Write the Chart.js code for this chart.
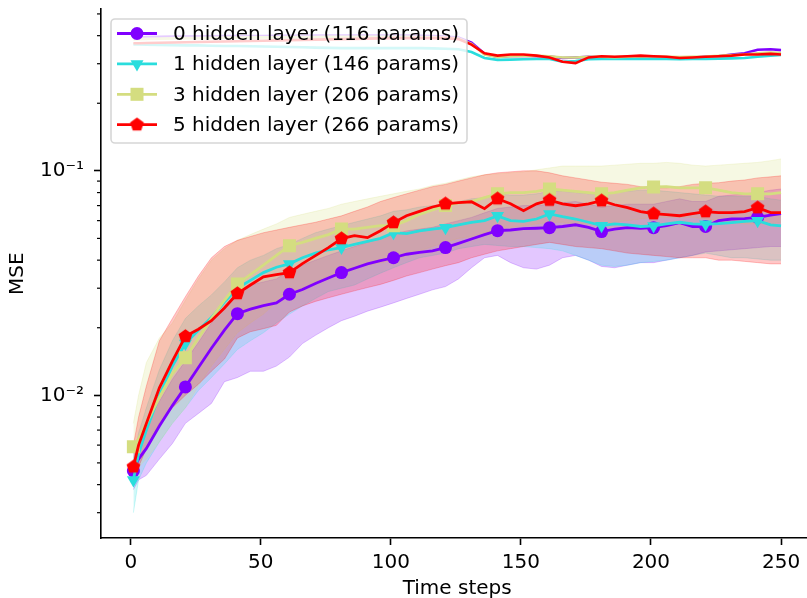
<!DOCTYPE html>
<html>
<head>
<meta charset="utf-8">
<script src="https://cdn.jsdelivr.net/npm/chart.js@4.4.0/dist/chart.umd.min.js"></script>
<style>
  html, body { margin: 0; padding: 0; background: #fff; overflow: hidden; }
  #wrap { width: 807px; height: 598px; overflow: hidden; }
  canvas { display: block; }
</style>
</head>
<body>
<div id="wrap"><canvas id="mse" width="830" height="598"></canvas></div>
<script>
// time steps sampled from the plot
const steps = [1,3,6,11,16,21,26,31,36,41,46,51,56,61,66,71,76,81,86,91,96,101,106,111,116,121,126,131,136,141,146,151,156,161,166,171,176,181,186,191,196,201,206,211,216,221,226,231,236,241,246,250];

// 0 hidden layer
const mse0 = [0.0046,0.0052,0.0058,0.0073,0.0090,0.0109,0.0133,0.0162,0.0195,0.0231,0.0242,0.0251,0.0258,0.0282,0.0296,0.0315,0.0333,0.0352,0.0368,0.0385,0.0398,0.0410,0.0425,0.0433,0.0440,0.0455,0.0475,0.0497,0.0520,0.0541,0.0545,0.0553,0.0555,0.0558,0.0565,0.0575,0.0560,0.0536,0.0550,0.0558,0.0555,0.0558,0.0570,0.0588,0.0565,0.0565,0.0600,0.0610,0.0612,0.0620,0.0635,0.0645];
const lo0 = [0.0038,0.0042,0.0044,0.0052,0.0061,0.0075,0.0083,0.0092,0.0115,0.0120,0.0128,0.0128,0.0135,0.0148,0.0170,0.0185,0.0200,0.0215,0.0225,0.0237,0.0247,0.0258,0.0270,0.0282,0.0295,0.0305,0.0330,0.0370,0.0410,0.0420,0.0390,0.0370,0.0365,0.0380,0.0410,0.0420,0.0400,0.0375,0.0370,0.0380,0.0390,0.0390,0.0400,0.0410,0.0420,0.0435,0.0440,0.0445,0.0450,0.0455,0.0460,0.0460];
const hi0 = [0.0055,0.0064,0.0074,0.0094,0.0118,0.0142,0.0172,0.0210,0.0250,0.0290,0.0310,0.0320,0.0330,0.0360,0.0380,0.0400,0.0420,0.0440,0.0460,0.0480,0.0500,0.0520,0.0540,0.0550,0.0560,0.0580,0.0600,0.0620,0.0650,0.0680,0.0690,0.0700,0.0700,0.0710,0.0720,0.0730,0.0710,0.0690,0.0700,0.0710,0.0710,0.0710,0.0730,0.0750,0.0730,0.0730,0.0770,0.0780,0.0790,0.0800,0.0820,0.0830];

// 1 hidden layer
const mse1 = [0.0042,0.0055,0.0070,0.0100,0.0135,0.0170,0.0195,0.0222,0.0260,0.0300,0.0325,0.0352,0.0372,0.0385,0.0410,0.0430,0.0445,0.0455,0.0470,0.0485,0.0500,0.0530,0.0525,0.0540,0.0550,0.0558,0.0575,0.0590,0.0600,0.0630,0.0600,0.0595,0.0610,0.0643,0.0625,0.0610,0.0590,0.0570,0.0580,0.0575,0.0565,0.0568,0.0580,0.0590,0.0580,0.0578,0.0582,0.0588,0.0595,0.0600,0.0575,0.0568];
const lo1 = [0.0030,0.0042,0.0050,0.0062,0.0075,0.0088,0.0105,0.0120,0.0138,0.0160,0.0175,0.0190,0.0210,0.0230,0.0250,0.0270,0.0290,0.0300,0.0310,0.0330,0.0350,0.0370,0.0390,0.0410,0.0420,0.0430,0.0450,0.0460,0.0470,0.0465,0.0460,0.0460,0.0455,0.0450,0.0440,0.0420,0.0400,0.0380,0.0375,0.0380,0.0390,0.0395,0.0400,0.0410,0.0420,0.0430,0.0420,0.0410,0.0410,0.0405,0.0400,0.0400];
const hi1 = [0.0052,0.0068,0.0088,0.0130,0.0175,0.0220,0.0250,0.0280,0.0320,0.0370,0.0400,0.0420,0.0450,0.0470,0.0500,0.0530,0.0550,0.0570,0.0590,0.0610,0.0630,0.0660,0.0670,0.0690,0.0700,0.0710,0.0730,0.0750,0.0760,0.0790,0.0780,0.0780,0.0790,0.0810,0.0810,0.0800,0.0790,0.0790,0.0800,0.0810,0.0820,0.0820,0.0810,0.0800,0.0790,0.0780,0.0770,0.0770,0.0770,0.0770,0.0750,0.0740];

// 3 hidden layer
const mse3 = [0.0059,0.0064,0.0075,0.0098,0.0125,0.0147,0.0180,0.0220,0.0265,0.0313,0.0345,0.0380,0.0420,0.0464,0.0480,0.0500,0.0520,0.0550,0.0550,0.0560,0.0570,0.0570,0.0600,0.0640,0.0670,0.0700,0.0720,0.0730,0.0760,0.0790,0.0800,0.0800,0.0810,0.0830,0.0820,0.0810,0.0800,0.0790,0.0800,0.0820,0.0840,0.0848,0.0850,0.0840,0.0840,0.0840,0.0820,0.0800,0.0790,0.0790,0.0790,0.0800];
const lo3 = [0.0045,0.0048,0.0052,0.0062,0.0075,0.0088,0.0110,0.0135,0.0160,0.0190,0.0210,0.0230,0.0260,0.0290,0.0300,0.0320,0.0340,0.0360,0.0370,0.0380,0.0390,0.0400,0.0420,0.0440,0.0460,0.0480,0.0500,0.0510,0.0530,0.0550,0.0560,0.0570,0.0580,0.0590,0.0590,0.0580,0.0580,0.0580,0.0590,0.0600,0.0610,0.0620,0.0620,0.0620,0.0620,0.0610,0.0600,0.0590,0.0580,0.0580,0.0580,0.0590];
const hi3 = [0.0075,0.0100,0.0140,0.0180,0.0210,0.0265,0.0330,0.0400,0.0450,0.0490,0.0520,0.0550,0.0580,0.0620,0.0640,0.0660,0.0680,0.0710,0.0730,0.0750,0.0770,0.0790,0.0810,0.0830,0.0860,0.0880,0.0910,0.0940,0.0960,0.0970,0.0980,0.0990,0.1010,0.1030,0.1050,0.1050,0.1050,0.1050,0.1060,0.1070,0.1080,0.1080,0.1090,0.1080,0.1060,0.1050,0.1060,0.1070,0.1080,0.1090,0.1110,0.1130];

// 5 hidden layer
const mse5 = [0.0048,0.0060,0.0075,0.0108,0.0142,0.0183,0.0197,0.0215,0.0245,0.0284,0.0310,0.0337,0.0345,0.0352,0.0386,0.0419,0.0455,0.0499,0.0514,0.0504,0.0541,0.0588,0.0631,0.0660,0.0690,0.0713,0.0721,0.0728,0.0678,0.0751,0.0713,0.0664,0.0713,0.0740,0.0713,0.0699,0.0713,0.0736,0.0706,0.0685,0.0658,0.0644,0.0638,0.0631,0.0644,0.0658,0.0651,0.0651,0.0658,0.0685,0.0651,0.0651];
const lo5 = [0.0040,0.0048,0.0058,0.0075,0.0088,0.0100,0.0112,0.0128,0.0145,0.0180,0.0192,0.0198,0.0205,0.0235,0.0250,0.0262,0.0272,0.0282,0.0292,0.0302,0.0312,0.0325,0.0340,0.0352,0.0365,0.0378,0.0390,0.0410,0.0425,0.0440,0.0450,0.0460,0.0470,0.0480,0.0470,0.0460,0.0455,0.0450,0.0440,0.0430,0.0425,0.0420,0.0415,0.0410,0.0410,0.0410,0.0400,0.0400,0.0395,0.0390,0.0385,0.0385];
const hi5 = [0.0060,0.0080,0.0110,0.0175,0.0220,0.0275,0.0340,0.0410,0.0460,0.0490,0.0510,0.0530,0.0545,0.0560,0.0575,0.0590,0.0610,0.0630,0.0660,0.0690,0.0730,0.0760,0.0790,0.0820,0.0850,0.0870,0.0900,0.0930,0.0960,0.0980,0.0990,0.1000,0.1000,0.0980,0.0950,0.0930,0.0910,0.0890,0.0880,0.0870,0.0850,0.0840,0.0840,0.0850,0.0870,0.0880,0.0885,0.0900,0.0910,0.0930,0.0940,0.0950];

// upper group of curves (same colours, no markers)
const top0 = [0.390,0.392,0.394,0.395,0.396,0.396,0.397,0.397,0.398,0.398,0.398,0.398,0.399,0.399,0.399,0.400,0.400,0.400,0.400,0.400,0.400,0.400,0.400,0.399,0.398,0.396,0.392,0.372,0.332,0.322,0.325,0.326,0.324,0.323,0.318,0.320,0.322,0.320,0.318,0.322,0.322,0.322,0.320,0.316,0.320,0.322,0.324,0.330,0.334,0.346,0.348,0.345];
const top1 = [0.366,0.366,0.365,0.364,0.363,0.362,0.362,0.361,0.360,0.360,0.359,0.358,0.357,0.356,0.355,0.354,0.353,0.352,0.352,0.352,0.352,0.352,0.352,0.352,0.351,0.350,0.348,0.338,0.318,0.312,0.313,0.314,0.315,0.315,0.306,0.308,0.314,0.315,0.315,0.315,0.316,0.315,0.315,0.314,0.315,0.315,0.316,0.317,0.318,0.322,0.326,0.328];
const top3 = [0.385,0.386,0.387,0.388,0.389,0.390,0.390,0.391,0.392,0.392,0.393,0.393,0.393,0.394,0.394,0.394,0.395,0.395,0.395,0.395,0.395,0.395,0.395,0.394,0.393,0.392,0.388,0.368,0.330,0.322,0.324,0.325,0.325,0.324,0.320,0.320,0.322,0.322,0.321,0.322,0.323,0.323,0.322,0.321,0.322,0.323,0.325,0.328,0.330,0.334,0.336,0.335];
const top5 = [0.370,0.370,0.371,0.372,0.373,0.374,0.375,0.376,0.377,0.378,0.379,0.380,0.381,0.382,0.383,0.384,0.385,0.386,0.387,0.388,0.389,0.390,0.390,0.390,0.390,0.390,0.386,0.365,0.334,0.326,0.330,0.330,0.326,0.320,0.306,0.302,0.320,0.324,0.322,0.324,0.326,0.324,0.322,0.318,0.320,0.322,0.324,0.326,0.330,0.330,0.332,0.330];

const labels = ['0 hidden layer (116 params)', '1 hidden layer (146 params)', '3 hidden layer (206 params)', '5 hidden layer (266 params)'];
const xTicks = [0, 50, 100, 150, 200, 250];
const yMajor = [0.01, 0.1];
const yMajorLabels = ['10\u207B\u00B2', '10\u207B\u00B9'];
const yMinor = [0.003,0.004,0.005,0.006,0.007,0.008,0.009,0.02,0.03,0.04,0.05,0.06,0.07,0.08,0.09,0.2,0.3,0.4,0.5];

const colors = ['#8000ff', '#2adddd', '#d4dd80', '#ff0000'];
const bandRgb = ['128,0,255', '42,221,221', '212,221,128', '255,0,0'];
const FONT = 'DejaVu Sans';

// pentagon marker (matplotlib 'p')
function pentagon(color, r) {
  const c = document.createElement('canvas');
  const s = Math.ceil(r * 2 + 2);
  c.width = s; c.height = s;
  const g = c.getContext('2d');
  g.fillStyle = color;
  g.beginPath();
  for (let i = 0; i < 5; i++) {
    const a = -Math.PI / 2 + i * 2 * Math.PI / 5;
    const px = s / 2 + r * Math.cos(a), py = s / 2 + r * Math.sin(a);
    if (i === 0) g.moveTo(px, py); else g.lineTo(px, py);
  }
  g.closePath();
  g.fill();
  return c;
}
const redPent = pentagon('#ff0000', 7.2);

const markerStyles = [
  { pointStyle: 'circle', radius: 6.5, rotation: 0 },
  { pointStyle: 'triangle', radius: 7.5, rotation: 180 },
  { pointStyle: 'rect', radius: 9.2, rotation: 0 },
  { pointStyle: redPent, radius: 7, rotation: 0 }
];

const pts = arr => steps.map((s, i) => ({ x: s, y: arr[i] }));
const isMarker = ctx => (steps[ctx.dataIndex] - 1) % 20 === 0;

const mainSeries = [mse0, mse1, mse3, mse5];
const lows = [lo0, lo1, lo3, lo5];
const highs = [hi0, hi1, hi3, hi5];
const tops = [top0, top1, top3, top5];

const datasets = [];
// bands: drawn first (higher order = further back)
for (let k = 0; k < 4; k++) {
  const lowIdx = datasets.length;
  datasets.push({
    data: pts(lows[k]), borderColor: 'rgba(' + bandRgb[k] + ',0.22)', borderWidth: 1,
    pointRadius: 0, fill: false, order: 40 - k
  });
  datasets.push({
    data: pts(highs[k]), borderColor: 'rgba(' + bandRgb[k] + ',0.22)', borderWidth: 1,
    backgroundColor: 'rgba(' + bandRgb[k] + ',0.22)',
    pointRadius: 0, fill: lowIdx, order: 40 - k
  });
}
// upper curves
for (let k = 0; k < 4; k++) {
  datasets.push({
    data: pts(tops[k]), borderColor: colors[k], borderWidth: 2.6,
    pointRadius: 0, fill: false, order: 20 - k
  });
}
// main curves with markers every 20 steps
for (let k = 0; k < 4; k++) {
  const m = markerStyles[k];
  datasets.push({
    label: labels[k],
    data: pts(mainSeries[k]), borderColor: colors[k], backgroundColor: colors[k],
    borderWidth: 2.8, fill: false, order: 4 - k,
    pointStyle: m.pointStyle, pointRotation: m.rotation,
    pointRadius: ctx => isMarker(ctx) ? m.radius : 0,
    pointBorderWidth: 0, pointBackgroundColor: colors[k]
  });
}

function drawMarker(ctx, k, x, y) {
  const m = markerStyles[k];
  ctx.fillStyle = colors[k];
  ctx.beginPath();
  if (k === 0) {
    ctx.arc(x, y, m.radius, 0, Math.PI * 2);
    ctx.fill();
  } else if (k === 1) {
    const r = m.radius;
    ctx.moveTo(x, y + r);
    ctx.lineTo(x - r * 0.866, y - r * 0.5);
    ctx.lineTo(x + r * 0.866, y - r * 0.5);
    ctx.closePath();
    ctx.fill();
  } else if (k === 2) {
    const h = m.radius * Math.SQRT1_2;
    ctx.fillRect(x - h, y - h, 2 * h, 2 * h);
  } else {
    ctx.drawImage(redPent, x - redPent.width / 2, y - redPent.height / 2);
  }
}

const extras = {
  id: 'extras',
  afterDraw(chart) {
    const ctx = chart.ctx;
    const ys = chart.scales.y;
    ctx.save();
    // minor ticks on the log axis
    ctx.strokeStyle = '#000';
    ctx.lineWidth = 1.2;
    yMinor.forEach(v => {
      const py = ys.getPixelForValue(v);
      ctx.beginPath();
      ctx.moveTo(ys.right - 4, py);
      ctx.lineTo(ys.right, py);
      ctx.stroke();
    });
    // legend box
    const lx = 111, ly = 19, lw = 356, lh = 124;
    ctx.beginPath();
    ctx.roundRect(lx, ly, lw, lh, 4);
    ctx.fillStyle = 'rgba(255,255,255,0.8)';
    ctx.fill();
    ctx.strokeStyle = 'rgba(204,204,204,0.8)';
    ctx.lineWidth = 1.6;
    ctx.stroke();
    ctx.font = '20px "' + FONT + '"';
    ctx.textBaseline = 'middle';
    ctx.textAlign = 'left';
    labels.forEach((t, k) => {
      const ry = 33.5 + k * 30.4;
      ctx.strokeStyle = colors[k];
      ctx.lineWidth = 2.8;
      ctx.beginPath();
      ctx.moveTo(117, ry);
      ctx.lineTo(157, ry);
      ctx.stroke();
      drawMarker(ctx, k, 137, ry);
      ctx.fillStyle = '#000';
      ctx.fillText(t, 173, ry + 1);
    });
    ctx.restore();
  }
};

new Chart(document.getElementById('mse'), {
  type: 'line',
  data: { datasets },
  plugins: [extras],
  options: {
    responsive: false,
    animation: false,
    devicePixelRatio: 1,
    events: [],
    layout: { padding: { left: 0, right: 16.6, top: 8, bottom: 0 } },
    plugins: { legend: { display: false }, tooltip: { enabled: false } },
    elements: { line: { tension: 0 } },
    scales: {
      x: {
        type: 'linear', min: -11.45, max: 262.45,
        afterBuildTicks: s => { s.ticks = xTicks.map(v => ({ value: v })); },
        afterFit: s => { s.height = 60; s.paddingLeft = 0; s.paddingRight = 0; },
        grid: { drawOnChartArea: false, drawTicks: true, tickLength: 7, tickWidth: 1.6, tickColor: '#000' },
        border: { display: true, color: '#000', width: 1.6 },
        ticks: { font: { family: FONT, size: 20 }, color: '#000', padding: 6, maxRotation: 0, autoSkip: false },
        title: { display: true, text: 'Time steps', color: '#000', font: { family: FONT, size: 20, lineHeight: 1 }, padding: { top: 0, bottom: -1 } }
      },
      y: {
        type: 'logarithmic', min: 0.002314, max: 0.5248,
        afterBuildTicks: s => { s.ticks = yMajor.map(v => ({ value: v, major: true })); },
        afterFit: s => { s.width = 101; s.paddingTop = 0; s.paddingBottom = 0; },
        grid: { drawOnChartArea: false, drawTicks: true, tickLength: 7, tickWidth: 1.6, tickColor: '#000' },
        border: { display: true, color: '#000', width: 1.6 },
        ticks: {
          font: { family: FONT, size: 20 }, color: '#000', padding: 10, autoSkip: false,
          callback: v => { const i = yMajor.indexOf(v); return i >= 0 ? yMajorLabels[i] : ''; }
        },
        title: { display: true, text: 'MSE', color: '#000', font: { family: FONT, size: 20, lineHeight: 1 }, padding: { top: 8, bottom: 0 } }
      }
    }
  }
});
</script>
</body>
</html>
